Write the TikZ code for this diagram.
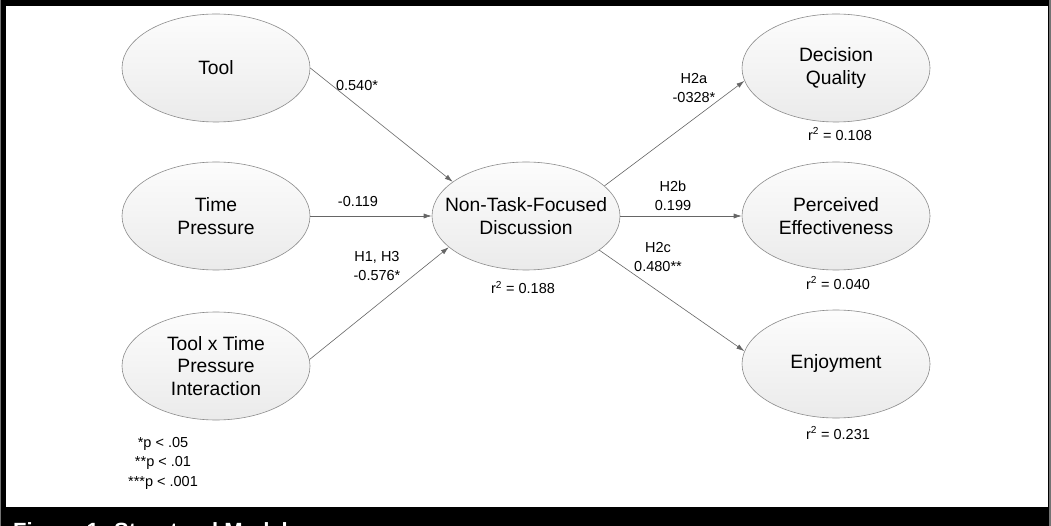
\documentclass[tikz,border=0pt]{standalone}
\usepackage{fontspec}
\setmainfont{Liberation Sans}
\usetikzlibrary{positioning,shapes.geometric,arrows.meta}

\begin{document}
\begin{tikzpicture}[x=1pt,y=-1pt,
  latent/.style={ellipse,draw=black!45,line width=0.6pt,top color=black!1,bottom color=black!8,minimum width=188pt,minimum height=108pt,inner sep=-20pt,align=center,font=\fontsize{19.3}{22.5}\selectfont,on grid},
  notes/.style={align=center,inner sep=0pt,font=\fontsize{14.5}{19.5}\selectfont},
  link/.style={draw=black!60,line width=0.6pt,-{Latex[length=8pt,width=5pt]}},
]
\useasboundingbox (0,0) rectangle (1051,526);
\clip (0,0) rectangle (1051,526);
% frame and caption bar
\fill[black] (0,0) rectangle (1051,526);
\fill[black!55] (0,0) rectangle (1.3,526);
\fill[black!55] (1049,0) rectangle (1051,526);
\fill[white] (6,6) rectangle (1047.5,507);
\node (caption) [anchor=base west,text=white,inner sep=0pt,font=\fontsize{22}{26}\selectfont\bfseries] at (13,538.5) {Figure 1: Structural Model};

\node (ntf) [latent] at (526,216) {Non-Task-Focused\\Discussion};
\node (time) [latent,left=310pt of ntf] {Time\\Pressure};
\node (tool) [latent,above=148pt of time] {Tool};
\node (inter) [latent,below=150pt of time] {Tool x Time\\Pressure\\Interaction};

\node (pe) [latent,right=310pt of ntf] {Perceived\\Effectiveness};
\node (dq) [latent,above=148pt of pe] {Decision\\Quality};
\node (enj) [latent,below=148pt of pe] {Enjoyment};

\draw[link] (tool.east) to (ntf.155);
\draw[link] (time) to (ntf);
\draw[link] (inter.4) to (ntf.202);
\draw[link] (ntf.21) to (dq.188);
\draw[link] (ntf) to (pe);
\draw[link] (ntf.335) to (enj.172);

% path coefficients
\node (c1) [notes] at (357,86) {0.540*};
\node (c2) [notes] at (358,202) {-0.119};
\node (c3) [notes] at (377,266) {H1, H3\\-0.576*};
\node (c4) [notes] at (694,88) {H2a\\-0328*};
\node (c5) [notes] at (673,196) {H2b\\0.199};
\node (c6) [notes] at (658,257) {H2c\\0.480**};

% explained variance
\node (r1) [notes] at (523,287.5) {r\textsuperscript{2} = 0.188};
\node (r2) [notes] at (840,134) {r\textsuperscript{2} = 0.108};
\node (r3) [notes] at (838,283) {r\textsuperscript{2} = 0.040};
\node (r4) [notes] at (838,433) {r\textsuperscript{2} = 0.231};

\node (legend) [notes] at (163,463) {*p {\textless} .05\\**p {\textless} .01\\***p {\textless} .001};
\end{tikzpicture}
\end{document}
